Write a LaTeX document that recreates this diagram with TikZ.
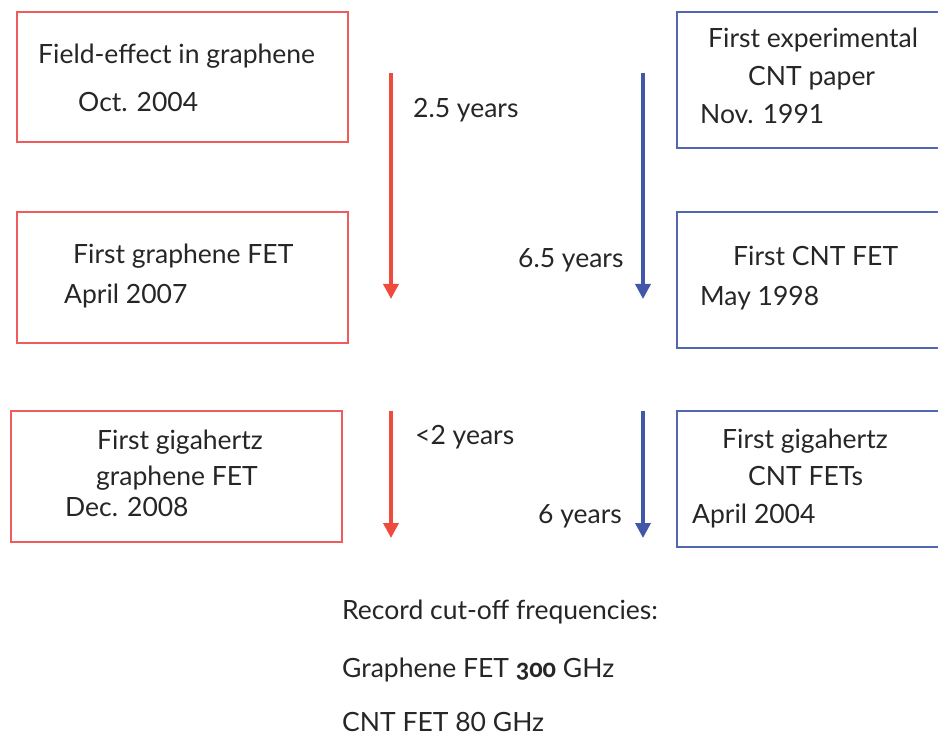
\documentclass[tikz,border=0pt]{standalone}
\usepackage{fontspec}
\setmainfont{Lato}
\newfontfamily\numfont[Numbers=OldStyle]{Carlito}
\usetikzlibrary{arrows.meta}
\definecolor{redline}{HTML}{EE4B3E}
\definecolor{redbox}{HTML}{EE5C5C}
\definecolor{blueline}{HTML}{4357A8}
\definecolor{bluebox}{HTML}{5167B0}
\definecolor{txt}{HTML}{262626}
\tikzset{
  rbox/.style={draw=redbox, line width=2pt, minimum width=331pt, inner sep=0pt},
  bbox/.style={draw=bluebox, line width=1.6pt, minimum width=273pt, inner sep=0pt},
  lbl/.style={anchor=base west, inner sep=0pt, text=txt, font=\fontsize{26.5}{30}\selectfont},
  rarrow/.style={draw=redline, line width=3.5pt, -{Triangle[width=15pt,length=15pt]}},
  barrow/.style={draw=blueline, line width=3.5pt, -{Triangle[width=15pt,length=15pt]}}
}
\begin{document}
\begin{tikzpicture}[x=1pt,y=-1pt]
\clip (0,0) rectangle (938,738);
\useasboundingbox (0,0) rectangle (938,738);
% boxes
\node[rbox, minimum height=130pt] (r1) at (182.5,77) {};
\node[rbox, minimum height=131pt] (r2) at (182.5,277.5) {};
\node[rbox, minimum height=131pt] (r3) at (176.5,476.5) {};
\node[bbox, minimum height=136pt] (b1) at (813.5,80) {};
\node[bbox, minimum height=136pt] (b2) at (813.5,280) {};
\node[bbox, minimum height=136pt] (b3) at (813.5,479) {};
% red box texts
\node[lbl] (t1) at (38,64) {Field-effect in graphene};
\node[lbl] (t2) at (78,112) {Oct. 2004};
\node[lbl] (t3) at (73,264) {First graphene FET};
\node[lbl] (t4) at (64,304) {April 2007};
\node[lbl] (t5) at (97,449) {First gigahertz};
\node[lbl] (t6) at (96,485) {graphene FET};
\node[lbl] (t7) at (65,516) {Dec. 2008};
% blue box texts
\node[lbl] (u1) at (708,48) {First experimental};
\node[lbl] (u2) at (748,86) {CNT paper};
\node[lbl] (u3) at (700,124) {Nov. 1991};
\node[lbl] (u4) at (733,266) {First CNT FET};
\node[lbl] (u5) at (700,306) {May 1998};
\node[lbl] (u6) at (722,448) {First gigahertz};
\node[lbl] (u7) at (748,485) {CNT FETs};
\node[lbl] (u8) at (692,523) {April 2004};
% arrows
\coordinate (ra1) at (391,73);
\coordinate (ra2) at (391,299);
\coordinate (ra3) at (391,411);
\coordinate (ra4) at (391,538);
\coordinate (ba1) at (643,73);
\coordinate (ba2) at (643,299);
\coordinate (ba3) at (643,411);
\coordinate (ba4) at (643,538);
\draw[rarrow] (ra1) -- (ra2);
\draw[rarrow] (ra3) -- (ra4);
\draw[barrow] (ba1) -- (ba2);
\draw[barrow] (ba3) -- (ba4);
\node[lbl] (y1) at (413,118) {2.5 years};
\node[lbl] (y2) at (518,268) {6.5 years};
\node[lbl] (y3) at (415,444) {<2 years};
\node[lbl] (y4) at (538,523) {6 years};
% bottom
\node[lbl] (c1) at (342,619) {Record cut-off frequencies:};
\node[lbl] (c2) at (342,677) {Graphene FET {\numfont\bfseries 300} GHz};
\node[lbl] (c3) at (342,731) {CNT FET 80 GHz};
\end{tikzpicture}
\end{document}
